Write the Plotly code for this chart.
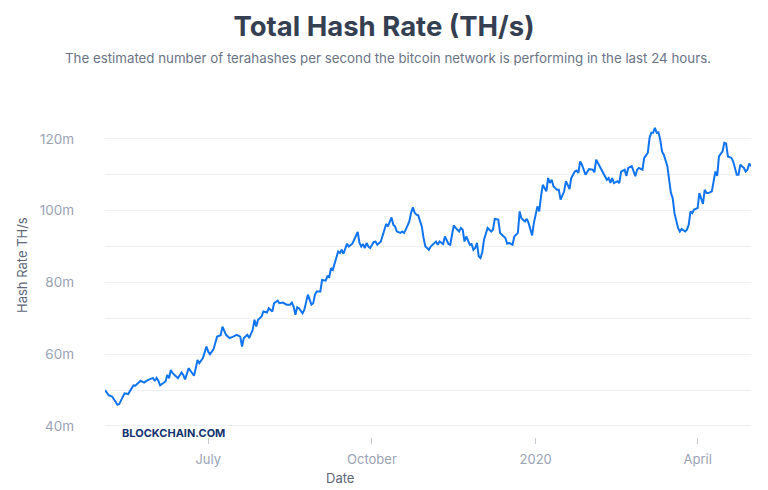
"""Blockchain.com style hash rate chart, rebuilt with Plotly."""

import pandas as pd
import plotly.graph_objects as go

START_DATE = "2019-05-04"

# days since START_DATE
days = [
    0, 2, 4, 5, 7, 8, 10, 11, 13, 15, 16, 17, 19, 20, 22, 23, 25, 27, 28, 29,
    30, 31, 32, 34, 35, 36, 37, 38, 40, 41, 43, 44, 45, 46, 47, 49, 50, 51, 52, 53,
    55, 57, 58, 59, 61, 62, 63, 65, 66, 68, 70, 72, 74, 76, 77, 78, 80, 81, 83, 84,
    85, 86, 88, 89, 91, 92, 94, 95, 97, 98, 100, 102, 104, 105, 106, 107, 108, 109, 111, 112,
    113, 114, 116, 117, 118, 119, 121, 122, 124, 125, 126, 127, 128, 129, 131, 132, 133, 134, 136, 137,
    139, 140, 142, 143, 144, 145, 146, 147, 148, 149, 151, 152, 153, 155, 156, 158, 159, 161, 162, 163,
    164, 166, 167, 168, 169, 171, 172, 173, 174, 175, 176, 178, 179, 180, 181, 182, 183, 184, 186, 187,
    188, 190, 191, 193, 194, 195, 196, 197, 199, 200, 201, 202, 203, 205, 206, 207, 208, 209, 210, 211,
    212, 213, 215, 217, 218, 219, 221, 222, 224, 225, 226, 227, 229, 230, 232, 233, 234, 236, 237, 238,
    240, 241, 243, 244, 245, 246, 248, 249, 250, 251, 252, 254, 255, 256, 258, 259, 260, 261, 262, 264,
    265, 266, 267, 268, 270, 271, 272, 274, 275, 276, 277, 279, 280, 281, 282, 283, 284, 285, 286, 288,
    289, 290, 292, 293, 294, 296, 297, 298, 299, 300, 302, 303, 305, 306, 307, 308, 309, 310, 311, 312,
    313, 314, 316, 317, 318, 319, 320, 322, 323, 324, 326, 327, 328, 329, 330, 331, 333, 334, 336, 337,
    338, 339, 341, 343, 344, 345, 347, 348, 349, 350, 352, 353, 355, 356, 357, 359, 360, 361, 362, 363,
]

# hash rate in millions of TH/s
hash_rate = [
    50.0, 48.6, 48.2, 47.4, 45.9, 46.1, 48.0, 49.1, 48.9, 50.8, 51.3, 51.2, 52.1, 52.6, 52.1, 52.5, 53.0, 53.4, 52.5, 53.4,
    52.6, 51.3, 51.7, 52.4, 54.2, 53.3, 55.6, 54.7, 53.8, 53.3, 54.9, 54.2, 53.0, 54.7, 56.1, 54.7, 54.0, 56.1, 58.4, 57.5,
    58.9, 62.1, 60.7, 60.0, 61.4, 63.2, 64.9, 65.3, 67.7, 65.4, 64.5, 64.9, 65.4, 64.9, 62.1, 64.5, 65.4, 64.5, 66.8, 69.6,
    67.7, 69.6, 70.5, 71.9, 71.6, 72.8, 71.9, 74.2, 74.9, 74.2, 74.4, 73.8, 73.8, 74.4, 73.3, 71.0, 73.1, 72.8, 71.4, 72.4,
    74.7, 76.6, 73.8, 74.2, 76.6, 77.5, 77.5, 80.7, 80.5, 81.7, 81.5, 84.0, 83.5, 85.4, 88.6, 88.2, 89.1, 88.0, 90.8, 90.0,
    90.8, 91.9, 94.1, 91.0, 90.0, 90.7, 89.6, 91.0, 90.0, 89.6, 91.3, 91.4, 90.5, 91.4, 93.3, 96.3, 95.6, 98.1, 96.1, 95.6,
    94.2, 93.8, 94.2, 93.8, 94.7, 97.0, 99.4, 100.9, 99.4, 98.9, 98.7, 95.6, 92.4, 90.0, 89.6, 89.1, 90.0, 90.5, 91.4, 90.5,
    91.4, 90.7, 92.8, 90.7, 90.5, 93.3, 95.9, 95.2, 94.2, 95.2, 94.7, 91.4, 92.8, 90.5, 90.7, 89.1, 89.6, 91.0, 87.3, 86.8,
    88.5, 92.0, 95.2, 94.2, 94.7, 97.7, 97.5, 93.8, 92.8, 92.4, 90.8, 91.0, 90.5, 92.8, 93.8, 99.8, 97.9, 97.0, 97.7, 96.6,
    93.1, 96.6, 101.2, 99.8, 104.0, 107.2, 105.4, 109.1, 107.7, 108.6, 106.8, 105.8, 105.8, 103.1, 105.4, 108.2, 107.2, 106.0, 109.1, 110.9,
    111.2, 110.5, 113.7, 112.8, 110.0, 110.9, 111.6, 111.4, 110.7, 114.2, 113.3, 111.4, 110.3, 109.6, 108.6, 109.1, 107.7, 109.1, 107.7, 108.2,
    107.7, 110.9, 111.4, 109.7, 111.9, 112.4, 110.9, 109.6, 111.4, 111.9, 111.4, 114.7, 116.1, 120.3, 121.7, 121.7, 123.1, 121.7, 121.8, 119.8,
    116.5, 115.6, 112.4, 108.6, 104.9, 103.5, 99.3, 95.2, 94.2, 94.9, 94.2, 94.7, 96.1, 99.8, 99.3, 100.3, 100.7, 104.9, 101.9, 105.8,
    104.9, 104.9, 105.4, 110.9, 109.7, 115.1, 116.5, 118.9, 118.7, 115.1, 114.7, 113.7, 110.0, 110.0, 112.8, 111.9, 110.9, 111.4, 113.1, 112.4,
]

month_ticks = ["2019-07-01", "2019-10-01", "2020-01-01", "2020-04-01"]
month_labels = ["July", "October", "2020", "April"]

y_grid = [40, 50, 60, 70, 80, 90, 100, 110, 120, 130]
y_labels = ["40m", "", "60m", "", "80m", "", "100m", "", "120m", ""]

dates = pd.to_datetime(START_DATE) + pd.to_timedelta(days, unit="D")

FONT = "Inter"
BLUE = "#1174ef"
GRID = "#eef0f3"

fig = go.Figure()
fig.add_trace(go.Scatter(
    x=dates,
    y=hash_rate,
    mode="lines",
    line=dict(color=BLUE, width=2),
    hovertemplate="%{x|%b %d, %Y}<br>%{y:.1f}m TH/s<extra></extra>",
))

fig.update_layout(
    width=768,
    height=490,
    margin=dict(l=105, r=17, t=103, b=53),
    paper_bgcolor="white",
    plot_bgcolor="white",
    showlegend=False,
    font=dict(family=FONT, color="#9aa2b3", size=13),
    title=dict(
        text="<b>Total Hash Rate (TH/s)</b>",
        x=0.5, xref="container", xanchor="center",
        y=1 - 26 / 490, yref="container", yanchor="middle",
        font=dict(family=FONT, size=27.5, color="#353f52"),
    ),
    xaxis=dict(
        range=[dates[0], dates[-1]],
        tickvals=month_ticks,
        ticktext=month_labels,
        showgrid=False,
        showline=False,
        zeroline=False,
        ticks="outside",
        ticklen=6,
        tickwidth=1,
        tickcolor="#c5cad3",
        ticklabelstandoff=4,
        tickfont=dict(size=13, color="#9aa2b3"),
    ),
    yaxis=dict(
        range=[36.93, 130],
        tickvals=y_grid,
        ticktext=y_labels,
        showgrid=True,
        gridcolor=GRID,
        gridwidth=1,
        showline=False,
        zeroline=False,
        ticks="",
        ticklabelstandoff=30,
        tickfont=dict(size=13.5, color="#9aa2b3"),
    ),
)

fig.add_annotation(
    text="The estimated number of terahashes per second the bitcoin network is performing in the last 24 hours.",
    xref="paper", yref="paper",
    x=(388 - 105) / 646, y=(437 - 58) / 334,
    xanchor="center", yanchor="middle",
    showarrow=False,
    font=dict(family=FONT, size=13.3, color="#6b7487"),
)
fig.add_annotation(
    text="Hash Rate TH/s",
    xref="paper", yref="paper",
    x=(22 - 105) / 646, y=(437 - 265) / 334,
    xanchor="center", yanchor="middle",
    textangle=-90,
    showarrow=False,
    font=dict(family=FONT, size=13, color="#5d6679"),
)
fig.add_annotation(
    text="Date",
    xref="paper", yref="paper",
    x=(340 - 105) / 646, y=(437 - 478) / 334,
    xanchor="center", yanchor="middle",
    showarrow=False,
    font=dict(family=FONT, size=13, color="#5d6679"),
)
fig.add_annotation(
    text="<b>BLOCKCHAIN.COM</b>",
    xref="paper", yref="paper",
    x=(120 - 105) / 646, y=(437 - 432.5) / 334,
    xanchor="left", yanchor="middle",
    showarrow=False,
    font=dict(family=FONT, size=11, color="#14336e"),
)

# the page body has a default margin; drop it so the figure sits at the window corner
fig.write_html(
    "out.html",
    config={"displayModeBar": False},
    post_script="document.body.style.margin = '0';",
)
